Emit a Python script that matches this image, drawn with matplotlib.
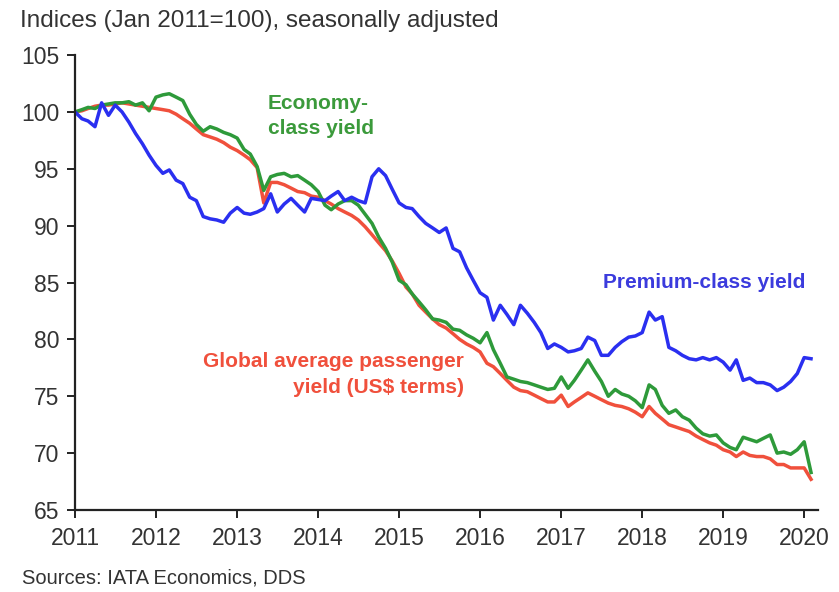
import numpy as np
import pandas as pd
import matplotlib
matplotlib.use("Agg")
import matplotlib.pyplot as plt
import matplotlib.dates as mdates

plt.rcParams["font.family"] = ["Liberation Sans", "DejaVu Sans"]

# monthly, Jan 2011 .. Feb 2020
months = pd.date_range("2011-01-01", periods=110, freq="MS")

premium = [100.0, 99.4, 99.2, 98.7, 100.8, 99.7, 100.6, 100.0, 99.1, 98.1, 97.2, 96.2,
           95.3, 94.6, 94.9, 94.0, 93.7, 92.5, 92.2, 90.8, 90.6, 90.5, 90.3, 91.1,
           91.6, 91.1, 91.0, 91.2, 91.5, 92.8, 91.2, 91.9, 92.4, 91.8, 91.2, 92.4,
           92.3, 92.2, 92.6, 93.0, 92.2, 92.5, 92.2, 92.0, 94.3, 95.0, 94.4, 93.2,
           92.0, 91.6, 91.5, 90.8, 90.2, 89.8, 89.4, 89.8, 88.0, 87.7, 86.3, 85.2,
           84.1, 83.7, 81.7, 83.0, 82.2, 81.3, 83.0, 82.3, 81.5, 80.6, 79.2, 79.6,
           79.3, 78.9, 79.0, 79.2, 80.2, 79.9, 78.6, 78.6, 79.3, 79.8, 80.2, 80.3,
           80.6, 82.4, 81.7, 82.0, 79.3, 79.0, 78.6, 78.3, 78.2, 78.4, 78.2, 78.4,
           78.0, 77.3, 78.2, 76.4, 76.6, 76.2, 76.2, 76.0, 75.5, 75.8, 76.3, 77.0,
           78.4, 78.3]

economy = [100.0, 100.2, 100.4, 100.3, 100.6, 100.7, 100.8, 100.8, 100.9, 100.6, 100.8, 100.1,
           101.3, 101.5, 101.6, 101.3, 101.0, 99.8, 98.9, 98.3, 98.7, 98.5, 98.2, 98.0,
           97.7, 96.7, 96.3, 95.2, 93.1, 94.3, 94.5, 94.6, 94.3, 94.4, 94.0, 93.6,
           93.0, 91.8, 91.4, 91.9, 92.2, 92.2, 91.8, 91.0, 90.2, 89.0, 88.0, 86.8,
           85.2, 84.8, 84.0, 83.3, 82.6, 81.8, 81.7, 81.5, 80.9, 80.8, 80.4, 80.1,
           79.7, 80.6, 79.1, 77.9, 76.7, 76.5, 76.3, 76.2, 76.0, 75.8, 75.6, 75.7,
           76.7, 75.7, 76.4, 77.3, 78.2, 77.2, 76.3, 75.0, 75.6, 75.2, 75.0, 74.6,
           74.0, 76.0, 75.6, 74.2, 73.5, 73.8, 73.2, 72.9, 72.2, 71.7, 71.5, 71.6,
           70.9, 70.5, 70.3, 71.4, 71.2, 71.0, 71.3, 71.6, 70.0, 70.1, 69.9, 70.3,
           71.0, 68.3]

global_avg = [100.0, 100.1, 100.3, 100.5, 100.6, 100.6, 100.7, 100.8, 100.7, 100.6, 100.5, 100.4,
              100.3, 100.2, 100.1, 99.8, 99.4, 99.0, 98.5, 98.0, 97.8, 97.6, 97.3, 96.9,
              96.6, 96.2, 95.8, 95.1, 92.0, 93.8, 93.8, 93.6, 93.3, 93.0, 92.9, 92.6,
              92.5, 92.2, 91.9, 91.5, 91.2, 90.9, 90.5, 89.9, 89.2, 88.5, 87.8, 86.9,
              85.8, 84.6, 84.0, 83.0, 82.4, 81.8, 81.3, 81.0, 80.5, 80.0, 79.6, 79.3,
              78.9, 77.9, 77.6, 77.0, 76.4, 75.8, 75.5, 75.4, 75.1, 74.8, 74.5, 74.5,
              75.1, 74.1, 74.5, 74.9, 75.3, 75.0, 74.7, 74.4, 74.2, 74.1, 73.9, 73.6,
              73.2, 74.1, 73.5, 73.0, 72.5, 72.3, 72.1, 71.9, 71.5, 71.2, 70.9, 70.7,
              70.3, 70.1, 69.7, 70.1, 69.8, 69.7, 69.7, 69.5, 69.0, 69.0, 68.7, 68.7,
              68.7, 67.7]

yticks = [65, 70, 75, 80, 85, 90, 95, 100, 105]

fig = plt.figure(figsize=(8.39, 5.92), dpi=100)
ax = fig.add_axes([0.0894, 0.1385, 0.886, 0.7685])

ax.plot(months, global_avg, color="#f0503c", lw=2.5, solid_joinstyle="round")
ax.plot(months, economy, color="#2e9a3a", lw=2.5, solid_joinstyle="round")
ax.plot(months, premium, color="#2a2ff0", lw=2.5, solid_joinstyle="round")

ax.set_ylim(65, 105)
ax.set_yticks(yticks)
ax.set_xlim(pd.Timestamp("2011-01-01"), pd.Timestamp("2020-03-05"))
ax.xaxis.set_major_locator(mdates.YearLocator())
ax.xaxis.set_major_formatter(mdates.DateFormatter("%Y"))

for s in ["top", "right"]:
    ax.spines[s].set_visible(False)
for s in ["left", "bottom"]:
    ax.spines[s].set_linewidth(1.6)
    ax.spines[s].set_color("#222222")
ax.tick_params(axis="both", direction="out", length=6, width=1.4,
               colors="#222222", labelcolor="#333333", labelsize=16.5)
ax.tick_params(axis="x", pad=6)
ax.tick_params(axis="y", pad=5)

fig.text(0.024, 0.965, "Indices (Jan 2011=100), seasonally adjusted",
         fontsize=17.5, color="#333333", va="center", ha="left")
fig.text(0.026, 0.023, "Sources: IATA Economics, DDS",
         fontsize=14.5, color="#333333", va="center", ha="left")

ax.text(0.319, 0.804, "Economy-\nclass yield", transform=fig.transFigure,
        color="#3b9a3b", fontsize=15, fontweight="bold", ha="left", va="center",
        linespacing=1.35)
ax.text(0.719, 0.522, "Premium-class yield", transform=fig.transFigure,
        color="#3b3bdd", fontsize=15, fontweight="bold", ha="left", va="center")
ax.text(0.553, 0.367, "Global average passenger\nyield (US$ terms)",
        transform=fig.transFigure, color="#f0503c", fontsize=15,
        fontweight="bold", ha="right", va="center", multialignment="right",
        linespacing=1.45)

fig.savefig("out.png", dpi=100)
